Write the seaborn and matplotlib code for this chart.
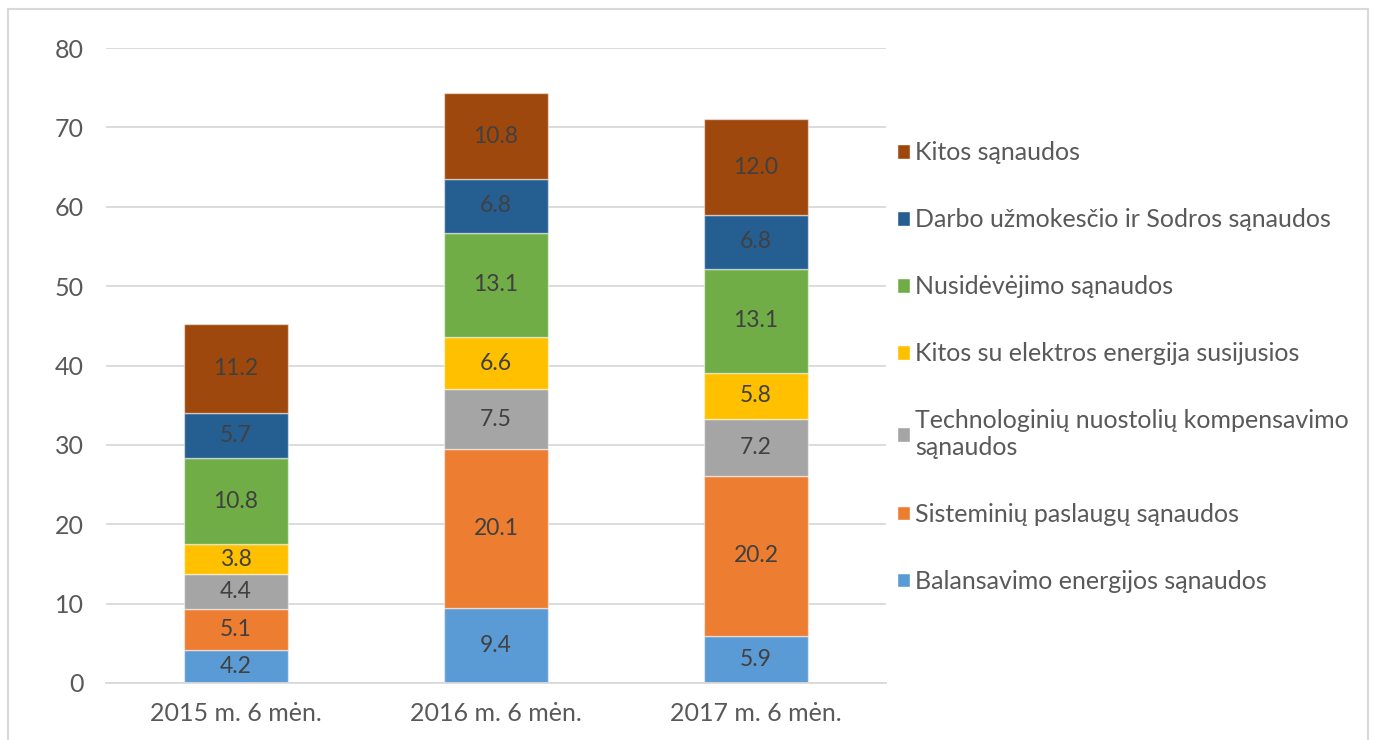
import matplotlib
matplotlib.use('Agg')
import matplotlib.pyplot as plt
import seaborn as sns
import pandas as pd
from matplotlib.patches import Patch, Rectangle

# duomenys
periods = ['2015 m. 6 mėn.', '2016 m. 6 mėn.', '2017 m. 6 mėn.']
series_names = [
    'Balansavimo energijos sąnaudos',
    'Sisteminių paslaugų sąnaudos',
    'Technologinių nuostolių kompensavimo\nsąnaudos',
    'Kitos su elektros energija susijusios',
    'Nusidėvėjimo sąnaudos',
    'Darbo užmokesčio ir Sodros sąnaudos',
    'Kitos sąnaudos',
]
balansavimo = [4.2, 9.4, 5.9]
sisteminiu = [5.1, 20.1, 20.2]
technologiniu = [4.4, 7.5, 7.2]
kitos_elektros = [3.8, 6.6, 5.8]
nusidevejimo = [10.8, 13.1, 13.1]
darbo = [5.7, 6.8, 6.8]
kitos = [11.2, 10.8, 12.0]
colors = ['#5B9BD5', '#ED7D31', '#A5A5A5', '#FFC000', '#70AD47', '#255E91', '#9E480E']

values = [balansavimo, sisteminiu, technologiniu, kitos_elektros, nusidevejimo, darbo, kitos]

sns.set_theme(style='white')
plt.rcParams['font.family'] = ['Lato', 'DejaVu Sans']

fig = plt.figure(figsize=(13.75, 7.4), dpi=100)
ax = fig.add_axes([106 / 1375, 1 - 683 / 740, 780 / 1375, 635 / 740])

bottom = [0.0, 0.0, 0.0]
for name, vals, col in zip(series_names, values, colors):
    df = pd.DataFrame({'period': periods, 'value': vals})
    sns.barplot(data=df, x='period', y='value', order=periods, color=col,
                saturation=1, width=0.4, errorbar=None, bottom=bottom,
                edgecolor=(1, 1, 1, 0.5), linewidth=1, ax=ax)
    bottom = [b + v for b, v in zip(bottom, vals)]

for cont in ax.containers:
    ax.bar_label(cont, fmt='%.1f', label_type='center', fontsize=16.5, color='#404040')

ax.set_ylim(0, 80)
ax.set_xlim(-0.5, 2.5)
ax.set_yticks(range(0, 81, 10))
ax.yaxis.grid(True, color='#D9D9D9', linewidth=1.3)
ax.set_axisbelow(True)
for s in ['top', 'right', 'left']:
    ax.spines[s].set_visible(False)
ax.spines['bottom'].set_color('#D9D9D9')
ax.spines['bottom'].set_linewidth(1.3)
ax.set_xlabel('')
ax.set_ylabel('')
ax.tick_params(axis='y', length=0, pad=16, labelsize=18, labelcolor='#595959')
ax.tick_params(axis='x', length=0, pad=14, labelsize=18, labelcolor='#595959')

handles = [Patch(facecolor=c, label=n) for c, n in zip(colors, series_names)]
leg = fig.legend(handles=handles[::-1], loc='upper left', bbox_to_anchor=(897 / 1375, 1 - 141 / 740),
                 frameon=False, fontsize=18, handlelength=0.53, handleheight=0.53,
                 handletextpad=0.2, labelspacing=1.76, borderaxespad=0, borderpad=0)
for t in leg.get_texts():
    t.set_color('#595959')

# rėmelis aplink diagramą
fig.patches.append(Rectangle((8 / 1375, -0.01), 1360 / 1375, 1 - 9 / 740 + 0.01,
                             transform=fig.transFigure, fill=False,
                             edgecolor='#D9D9D9', linewidth=1.5))

fig.savefig('out.png', dpi=100)
